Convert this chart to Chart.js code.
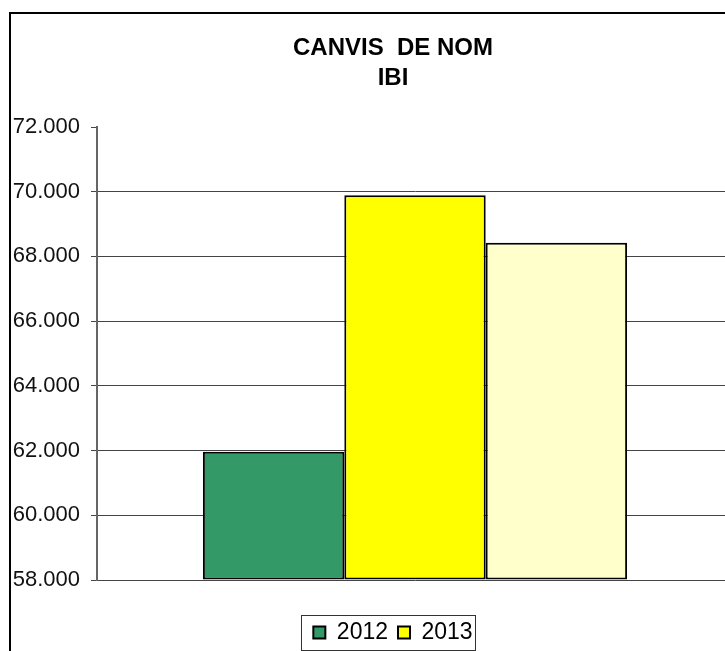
<!DOCTYPE html>
<html>
<head>
<meta charset="utf-8">
<script src="https://cdn.jsdelivr.net/npm/chart.js@4/dist/chart.umd.min.js"></script>
<style>
  html, body { margin: 0; padding: 0; background: #fff; overflow: hidden; }
  #wrap { position: absolute; left: 0; top: 0; width: 786px; height: 654px; }
  #frame { position: absolute; left: 9px; top: 12px; width: 800px; height: 720px;
           border: 2px solid #000; pointer-events: none; }
</style>
</head>
<body>
<div id="wrap"><canvas id="chart" width="786" height="654"></canvas></div>
<div id="frame"></div>
<script>
const categories = [""];
const seriesNames = ["2012", "2013", ""];
const values2012 = [61960];
const values2013 = [69890];
const valuesThird = [68420];
const yMin = 58000;
const yMax = 72000;
const yStep = 2000;

const fmt = v => Math.floor(v / 1000) + "." + String(v % 1000).padStart(3, "0");

const legendFrame = {
  id: "legendFrame",
  afterDraw(chart) {
    const boxes = chart.legend.legendHitBoxes;
    if (!boxes || !boxes.length) return;
    const ctx = chart.ctx;
    const left = Math.min(...boxes.map(b => b.left)) - 12;
    const right = Math.max(...boxes.map(b => b.left + b.width)) + 3;
    const mid = boxes[0].top + boxes[0].height / 2;
    ctx.save();
    ctx.strokeStyle = "#333";
    ctx.lineWidth = 1;
    ctx.strokeRect(Math.round(left) + 0.5, Math.round(mid - 18) + 0.5, Math.round(right - left), 35);
    ctx.restore();
  }
};

new Chart(document.getElementById("chart"), {
  type: "bar",
  data: {
    labels: categories,
    datasets: [
      { label: seriesNames[0], data: values2012, backgroundColor: "#339966" },
      { label: seriesNames[1], data: values2013, backgroundColor: "#FFFF00" },
      { label: seriesNames[2], data: valuesThird, backgroundColor: "#FFFFCC" }
    ]
  },
  options: {
    responsive: false,
    animation: false,
    layout: { padding: 0 },
    datasets: {
      bar: {
        base: yMin,
        borderColor: "#000",
        borderWidth: 2,
        borderSkipped: false,
        categoryPercentage: 0.667,
        barPercentage: 1
      }
    },
    scales: {
      x: {
        display: true,
        ticks: { display: false },
        grid: { display: false },
        border: { display: false },
        afterFit: s => { s.height = 31; }
      },
      y: {
        min: yMin,
        max: yMax,
        ticks: {
          stepSize: yStep,
          padding: 11,
          color: "#111",
          font: { family: "'Liberation Sans', Arial", size: 22 },
          callback: v => fmt(v)
        },
        grid: {
          color: c => (c.tick && c.tick.value === yMax) ? "rgba(0,0,0,0)" : "#444",
          tickColor: "#444",
          tickLength: 6,
          lineWidth: 1
        },
        border: { color: "#666", width: 2 },
        afterFit: s => { s.width = 97; }
      },
      yRight: {
        position: "right",
        display: true,
        ticks: { display: false },
        grid: { display: false },
        border: { display: false },
        afterFit: s => { s.width = 53; }
      }
    },
    plugins: {
      title: {
        display: true,
        text: ["CANVIS  DE NOM", "IBI"],
        color: "#000",
        font: { family: "'Liberation Sans', Arial", size: 24, weight: "bold", lineHeight: 1.25 },
        padding: { top: 33, bottom: 34 }
      },
      legend: {
        position: "bottom",
        labels: {
          color: "#000",
          font: { family: "'Liberation Sans', Arial", size: 23 },
          boxWidth: 12,
          boxHeight: 12,
          padding: 10,
          filter: item => item.text !== ""
        }
      },
      tooltip: { enabled: false }
    }
  },
  plugins: [legendFrame]
});
</script>
</body>
</html>
